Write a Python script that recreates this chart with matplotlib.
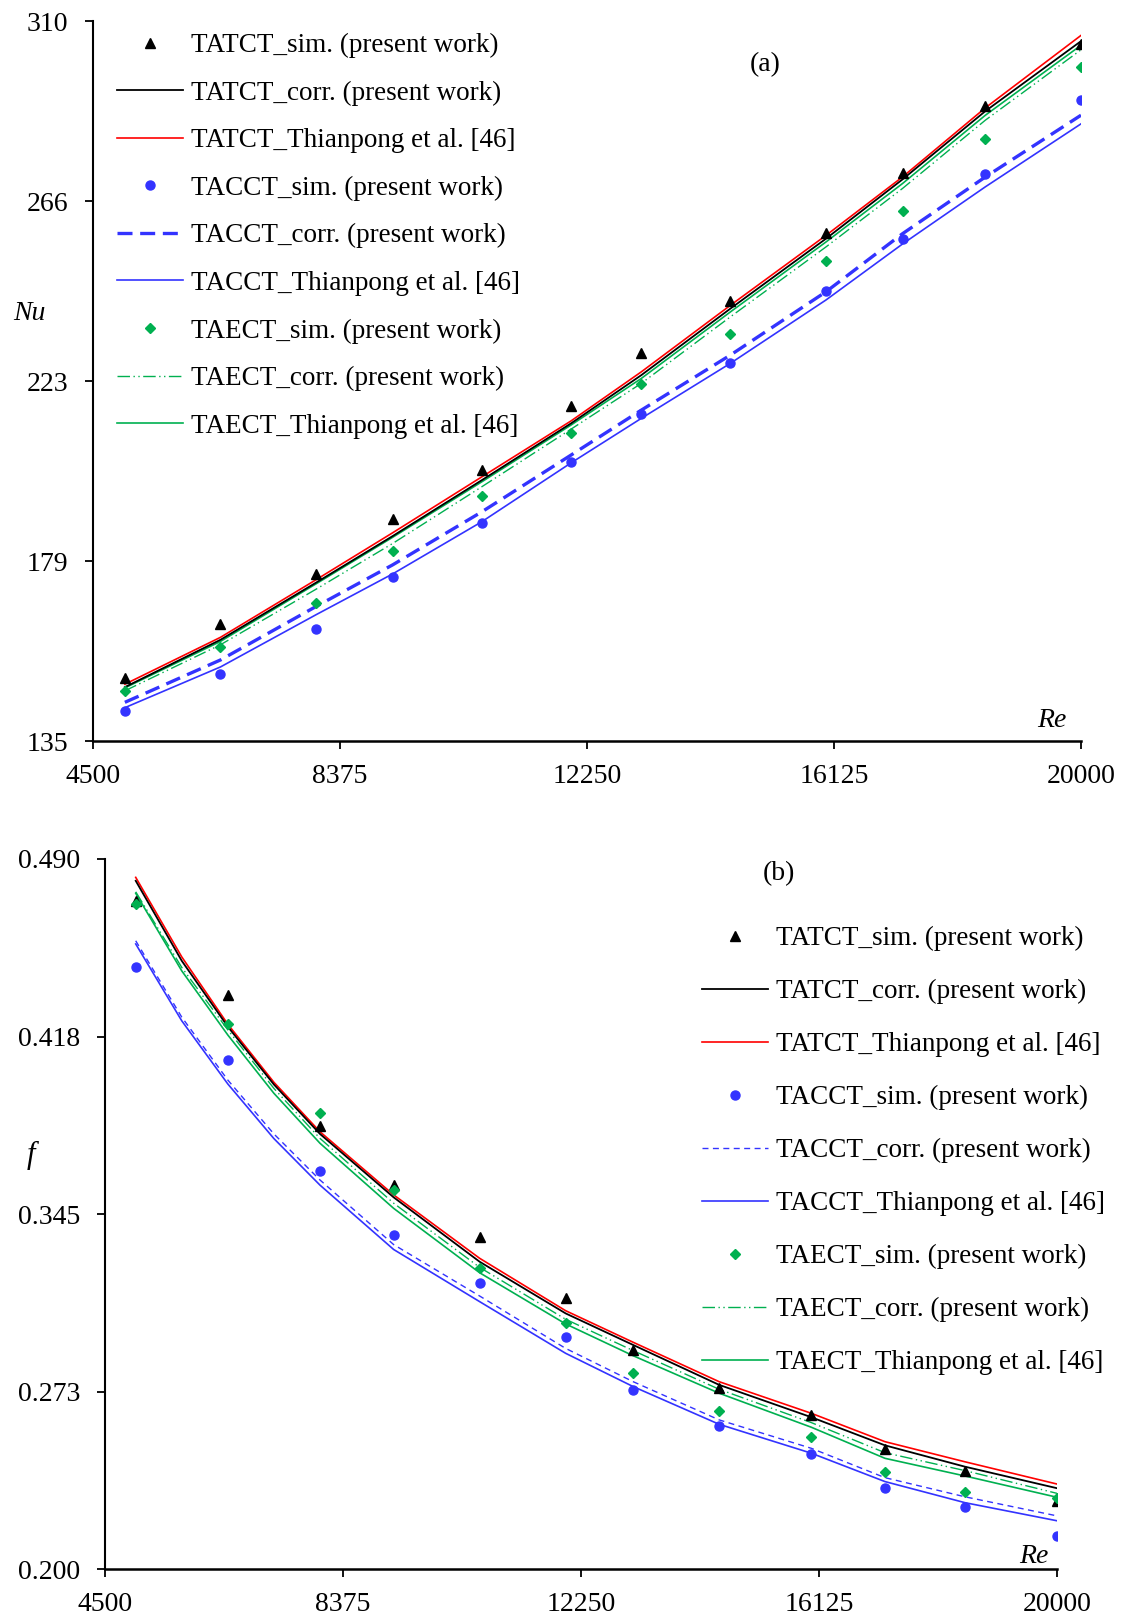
import numpy as np
import matplotlib
matplotlib.use('Agg')
import matplotlib.pyplot as plt

plt.rcParams['font.family'] = ['Liberation Serif', 'DejaVu Serif']

# Reynolds numbers of the simulated cases
re = [5000, 6500, 8000, 9200, 10600, 12000, 13100, 14500, 16000, 17200, 18500, 20000]
re_fline = [5000, 5750, 6500, 7250, 8000, 9200, 10600, 12000, 13100, 14500, 16000, 17200, 18500, 20000]

# (a) Nusselt number
nu_tatct_sim = [150.3, 163.5, 175.5, 188.9, 200.9, 216.4, 229.2, 241.9, 258.5, 273.1, 289.3, 304.5]
nu_tacct_sim = [142.4, 151.3, 162.3, 174.8, 187.9, 202.9, 214.4, 226.8, 244.4, 257.0, 272.9, 290.9]
nu_taect_sim = [147.2, 157.8, 168.5, 181.2, 194.6, 209.9, 221.7, 233.9, 251.7, 263.8, 281.2, 298.7]
nu_tatct_corr = [148.1, 159.6, 173.5, 184.8, 198.4, 212.2, 223.9, 240.1, 257.1, 271.5, 288.1, 305.1]
nu_tatct_thi = [148.8, 160.2, 174.2, 185.6, 199.2, 212.8, 224.7, 240.9, 257.9, 272.1, 288.9, 306.5]
nu_tacct_corr = [144.4, 154.7, 167.7, 177.8, 190.7, 204.5, 215.4, 228.8, 244.2, 258.3, 272.1, 287.1]
nu_tacct_thi = [143.1, 153.0, 165.7, 175.6, 188.3, 202.6, 213.4, 226.8, 242.2, 255.8, 269.7, 285.0]
nu_taect_corr = [147.2, 158.4, 171.9, 183.0, 196.8, 210.8, 221.9, 238.1, 255.1, 269.3, 285.9, 303.0]
nu_taect_thi = [147.9, 159.2, 173.2, 184.5, 198.0, 211.8, 223.1, 239.3, 256.3, 270.5, 287.1, 304.1]

# (b) friction factor
f_tatct_sim = [0.4730, 0.4345, 0.3811, 0.3568, 0.3357, 0.3106, 0.2895, 0.2738, 0.2628, 0.2489, 0.2402, 0.2277]
f_tacct_sim = [0.4460, 0.4079, 0.3624, 0.3366, 0.3167, 0.2946, 0.2731, 0.2584, 0.2469, 0.2330, 0.2255, 0.2136]
f_taect_sim = [0.4716, 0.4225, 0.3861, 0.3548, 0.3228, 0.3006, 0.2799, 0.2647, 0.2540, 0.2395, 0.2316, 0.2291]
f_tatct_corr = [0.4811, 0.4484, 0.4215, 0.3979, 0.3777, 0.3518, 0.3255, 0.3044, 0.2915, 0.2752, 0.2620, 0.2505, 0.2418, 0.2330]
f_tatct_thi = [0.4825, 0.4500, 0.4225, 0.3988, 0.3786, 0.3528, 0.3269, 0.3055, 0.2926, 0.2765, 0.2636, 0.2520, 0.2438, 0.2347]
f_tacct_corr = [0.4566, 0.4254, 0.3997, 0.3777, 0.3589, 0.3325, 0.3115, 0.2901, 0.2765, 0.2609, 0.2493, 0.2373, 0.2295, 0.2217]
f_tacct_thi = [0.4553, 0.4239, 0.3981, 0.3758, 0.3568, 0.3305, 0.3092, 0.2881, 0.2745, 0.2591, 0.2473, 0.2357, 0.2271, 0.2197]
f_taect_corr = [0.4766, 0.4457, 0.4202, 0.3963, 0.3759, 0.3494, 0.3232, 0.3020, 0.2892, 0.2734, 0.2598, 0.2475, 0.2402, 0.2309]
f_taect_thi = [0.4760, 0.4443, 0.4181, 0.3943, 0.3739, 0.3473, 0.3210, 0.3001, 0.2871, 0.2718, 0.2579, 0.2452, 0.2380, 0.2293]

x_ticks = [4500, 8375, 12250, 16125, 20000]
nu_ticks = [135, 178.75, 222.5, 266.25, 310]
nu_labels = ['135', '179', '223', '266', '310']
f_ticks = [0.200, 0.2725, 0.345, 0.4175, 0.490]
f_labels = ['0.200', '0.273', '0.345', '0.418', '0.490']

BLACK = 'black'
RED = '#ff0000'
BLUE = '#3333ff'
GREEN = '#00b050'

W, H = 1121, 1619
fig = plt.figure(figsize=(W / 100, H / 100), dpi=100)

ax1 = fig.add_axes([93 / W, 1 - 741 / H, 988 / W, 720 / H])
ax2 = fig.add_axes([105 / W, 1 - 1569 / H, 952 / W, 710 / H])


def style_axes(ax, yticks, ylabels, ylim):
    for s in ['top', 'right']:
        ax.spines[s].set_visible(False)
    ax.spines['left'].set_linewidth(1.5)
    ax.spines['bottom'].set_linewidth(1.8)
    ax.set_xlim(4500, 20000)
    ax.set_ylim(*ylim)
    ax.set_xticks(x_ticks)
    ax.set_xticklabels([str(t) for t in x_ticks])
    ax.set_yticks(yticks)
    ax.set_yticklabels(ylabels)
    ax.tick_params(axis='both', direction='out', length=6, width=1.3, labelsize=20)
    ax.tick_params(axis='y', pad=12)
    ax.tick_params(axis='x', pad=10.5)


def draw(ax, xline, sims, corrs, thiss, corr_styles):
    names = ['TATCT', 'TACCT', 'TAECT']
    colors = [BLACK, BLUE, GREEN]
    thi_colors = [RED, BLUE, GREEN]
    markers = [('^', 7), ('o', 6.5), ('D', 5.5)]
    for i in range(3):
        ax.plot(re, sims[i], linestyle='none', marker=markers[i][0], ms=markers[i][1],
                color=colors[i], label=names[i] + '_sim. (present work)', zorder=4)
        ax.plot(xline, corrs[i], color=colors[i], label=names[i] + '_corr. (present work)',
                zorder=3, **corr_styles[i])
        ax.plot(xline, thiss[i], color=thi_colors[i], lw=1.2,
                label=names[i] + '_Thianpong et al. [46]', zorder=2)


# ---- (a) ----
style_axes(ax1, nu_ticks, nu_labels, (135, 310))
draw(ax1, re,
     [nu_tatct_sim, nu_tacct_sim, nu_taect_sim],
     [nu_tatct_corr, nu_tacct_corr, nu_taect_corr],
     [nu_tatct_thi, nu_tacct_thi, nu_taect_thi],
     [dict(lw=1.3),
      dict(lw=2.4, dashes=(4.5, 2.3)),
      dict(lw=1.0, dashes=(9, 2.5, 1, 2.5, 1, 2.5))])
ax1.text(-0.064, 0.594, 'Nu', style='italic', fontsize=20, ha='center', va='center',
         transform=ax1.transAxes)
ax1.text(0.970, 0.029, 'Re', style='italic', fontsize=20, ha='center', va='center',
         transform=ax1.transAxes)
ax1.text(0.680, 0.940, '(a)', fontsize=20, ha='center', va='center', transform=ax1.transAxes)
ax1.legend(loc='upper left', bbox_to_anchor=(117 / W, 1 - 33 / H),
           bbox_transform=fig.transFigure, frameon=False, fontsize=19.5,
           handlelength=2.45, handletextpad=0.3, labelspacing=0.83,
           borderpad=0, borderaxespad=0)

# ---- (b) ----
style_axes(ax2, f_ticks, f_labels, (0.200, 0.490))
draw(ax2, re_fline,
     [f_tatct_sim, f_tacct_sim, f_taect_sim],
     [f_tatct_corr, f_tacct_corr, f_taect_corr],
     [f_tatct_thi, f_tacct_thi, f_taect_thi],
     [dict(lw=1.3),
      dict(lw=1.0, dashes=(4.3, 3.2)),
      dict(lw=1.0, dashes=(9, 2.5, 1, 2.5, 1, 2.5))])
ax2.text(-0.078, 0.582, 'f', style='italic', fontsize=22, ha='center', va='center',
         transform=ax2.transAxes)
ax2.text(0.976, 0.018, 'Re', style='italic', fontsize=20, ha='center', va='center',
         transform=ax2.transAxes)
ax2.text(0.708, 0.980, '(b)', fontsize=20, ha='center', va='center', transform=ax2.transAxes)
ax2.legend(loc='upper left', bbox_to_anchor=(702 / W, 1 - 926 / H),
           bbox_transform=fig.transFigure, frameon=False, fontsize=19.5,
           handlelength=2.45, handletextpad=0.3, labelspacing=1.03,
           borderpad=0, borderaxespad=0)

fig.savefig('out.png', dpi=100)
